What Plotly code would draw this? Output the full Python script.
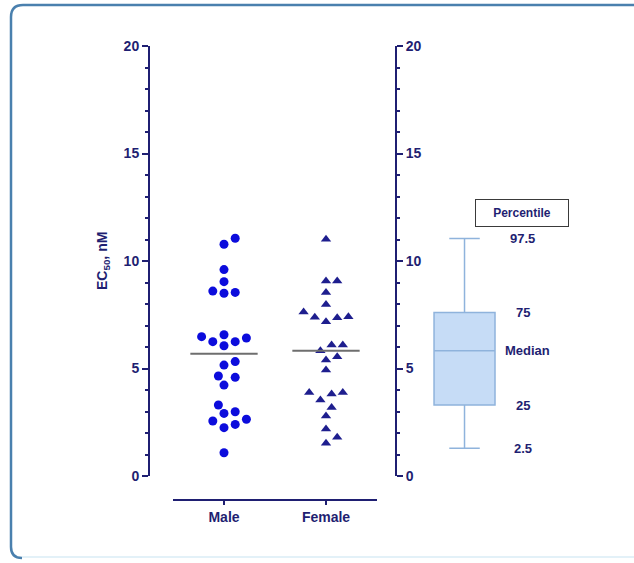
import numpy as np
import plotly.graph_objects as go

# ---------------- data ----------------
groups = ["Male", "Female"]
male_ec50 = [11.06, 10.78, 9.60, 9.04, 8.60, 8.50, 8.54, 6.57, 6.42, 6.25, 6.06, 6.25,
             6.48, 5.16, 5.32, 4.59, 4.65, 4.23, 3.30, 2.99, 2.91, 2.64, 2.40, 2.25,
             2.56, 1.08]
female_ec50 = [11.01, 9.07, 9.07, 8.53, 7.98, 7.38, 7.36, 7.18, 7.41, 7.63, 6.09, 6.09,
               5.82, 5.40, 5.55, 4.93, 3.88, 3.81, 3.88, 3.53, 3.19, 2.79, 2.19, 1.80,
               1.52]
pct_labels = ["97.5", "75", "Median", "25", "2.5"]
pct_values = [11.05, 7.61, 5.83, 3.30, 1.29]   # upper whisker, q3, median, q1, lower whisker
y_ticks = [0, 5, 10, 15, 20]

# ---------------- layout geometry (page pixel coordinates; body margin removed) ----------------
OFF = 0
W, H = 634 - OFF, 563 - OFF
X0, X1, Y0, Y1 = 149, 600, 46, 500          # plot area in page pixels
ML, MR, MT, MB = X0 - OFF, OFF + W - X1, Y0 - OFF, OFF + H - Y1
PW, PH = X1 - X0, Y1 - Y0
NAVY = "#1f1f72"
FONT = "Arial, Liberation Sans, sans-serif"


def px(x):
    return (x - X0) / PW


def py(y):
    return (Y1 - y) / PH


Y_PX_PER_UNIT = 21.5
X_PX_PER_UNIT = 102.0


def swarm(vals, step=5.6, mind=10.0):
    vals = np.asarray(vals, float)
    order = np.argsort(vals)
    placed = []
    offs = np.zeros(len(vals))
    cands = [0.0]
    for j in range(1, 20):
        cands += [j * step, -j * step]
    for i in order:
        yy = vals[i] * Y_PX_PER_UNIT
        for c in cands:
            if all((c - a) ** 2 + (yy - b) ** 2 >= mind ** 2 for a, b in placed):
                break
        placed.append((c, yy))
        offs[i] = c
    return offs / X_PX_PER_UNIT


fig = go.Figure()

series = [(male_ec50, "circle", "#0c0cdc", 9), (female_ec50, "triangle-up", "#1e1e8e", 9)]
for gi, (vals, sym, col, sz) in enumerate(series):
    xpos = 1 + gi + swarm(vals)
    fig.add_trace(go.Scatter(x=xpos, y=vals, mode="markers", xaxis="x", yaxis="y",
                             marker=dict(symbol=sym, color=col, size=sz, line=dict(width=0)),
                             cliponaxis=False, showlegend=False, hoverinfo="y"))
    med = float(np.median(vals))
    fig.add_trace(go.Scatter(x=[1 + gi - 0.33, 1 + gi + 0.33], y=[med, med], mode="lines",
                             xaxis="x", yaxis="y", line=dict(color="#6e6e6e", width=2),
                             cliponaxis=False, showlegend=False, hoverinfo="skip"))

# percentile box (legend key)
BOX_X = 0.249
fig.add_trace(go.Box(x=[BOX_X], lowerfence=[pct_values[4]], q1=[pct_values[3]],
                     median=[pct_values[2]], q3=[pct_values[1]], upperfence=[pct_values[0]],
                     width=0.338, whiskerwidth=0.5, xaxis="x2", yaxis="y",
                     fillcolor="#c6dcf6", line=dict(color="#8fb3dc", width=1.5),
                     showlegend=False, hoverinfo="skip"))

annotations = []
for lab, v in zip(pct_labels, pct_values):
    xa = 0.597 if lab == "Median" else 0.573
    annotations.append(dict(x=xa, y=v, xref="x2", yref="y", text=f"<b>{lab}</b>",
                            showarrow=False, font=dict(family=FONT, size=13, color=NAVY),
                            xanchor="center", yanchor="middle"))
annotations.append(dict(x=0.568, y=12.23, xref="x2", yref="y", text="<b>Percentile</b>",
                        showarrow=False, font=dict(family=FONT, size=12, color=NAVY),
                        bordercolor="#3a3a3a", borderwidth=1, borderpad=6, bgcolor="white",
                        width=80, xanchor="center", yanchor="middle"))
annotations.append(dict(x=px(103), y=py(261), xref="paper", yref="paper",
                        text="<b>EC<sub>50</sub>, nM</b>", textangle=-90, showarrow=False,
                        font=dict(family=FONT, size=14, color=NAVY),
                        xanchor="center", yanchor="middle"))

frame_path = (f"M {px(634)},{py(5)} L {px(23)},{py(5)} Q {px(11)},{py(5)} {px(11)},{py(17)} "
              f"L {px(11)},{py(547)} Q {px(11)},{py(558)} {px(22)},{py(558)}")
shapes = [
    dict(type="path", xref="paper", yref="paper", path=frame_path,
         line=dict(color="#4a80ae", width=2.5)),
    dict(type="line", xref="paper", yref="paper", x0=px(22), x1=px(634), y0=py(557), y1=py(557),
         line=dict(color="#e3f1f8", width=2)),
]

ydom0 = (Y1 - 476) / PH
yaxis_common = dict(range=[0, 20], tickvals=y_ticks, ticks="outside", ticklen=6, tickwidth=2,
                    tickcolor=NAVY, showline=True, linecolor=NAVY, linewidth=2,
                    showgrid=False, zeroline=False,
                    tickfont=dict(family=FONT, size=14, color=NAVY, weight="bold"),
                    minor=dict(dtick=1, ticks="outside", ticklen=3, tickwidth=1.5, tickcolor=NAVY))

fig.update_layout(
    width=W, height=H,
    margin=dict(l=ML, r=MR, t=MT, b=MB),
    paper_bgcolor="white", plot_bgcolor="rgba(0,0,0,0)",
    showlegend=False,
    xaxis=dict(domain=[px(173), px(377)], range=[0.5, 2.5], anchor="free", position=0,
               tickvals=[1, 2], ticktext=groups, ticks="outside", ticklen=4, tickwidth=2,
               tickcolor=NAVY, showline=True, linecolor=NAVY, linewidth=2, showgrid=False,
               zeroline=False,
               tickfont=dict(family=FONT, size=14, color=NAVY, weight="bold")),
    xaxis2=dict(domain=[px(419.6), 1.0], range=[0, 1], anchor="y", visible=False),
    yaxis=dict(domain=[ydom0, 1], anchor="free", position=0, side="left", **yaxis_common),
    yaxis2=dict(overlaying="y", anchor="free", position=px(396), side="right", **yaxis_common),
    annotations=annotations,
    shapes=shapes,
)
# an invisible trace so yaxis2 is drawn
fig.add_trace(go.Scatter(x=[None], y=[None], xaxis="x", yaxis="y2", showlegend=False))

fig.write_html("out.html", config={"displayModeBar": False},
               post_script="document.body.style.margin='0';document.body.style.overflow='hidden';")
